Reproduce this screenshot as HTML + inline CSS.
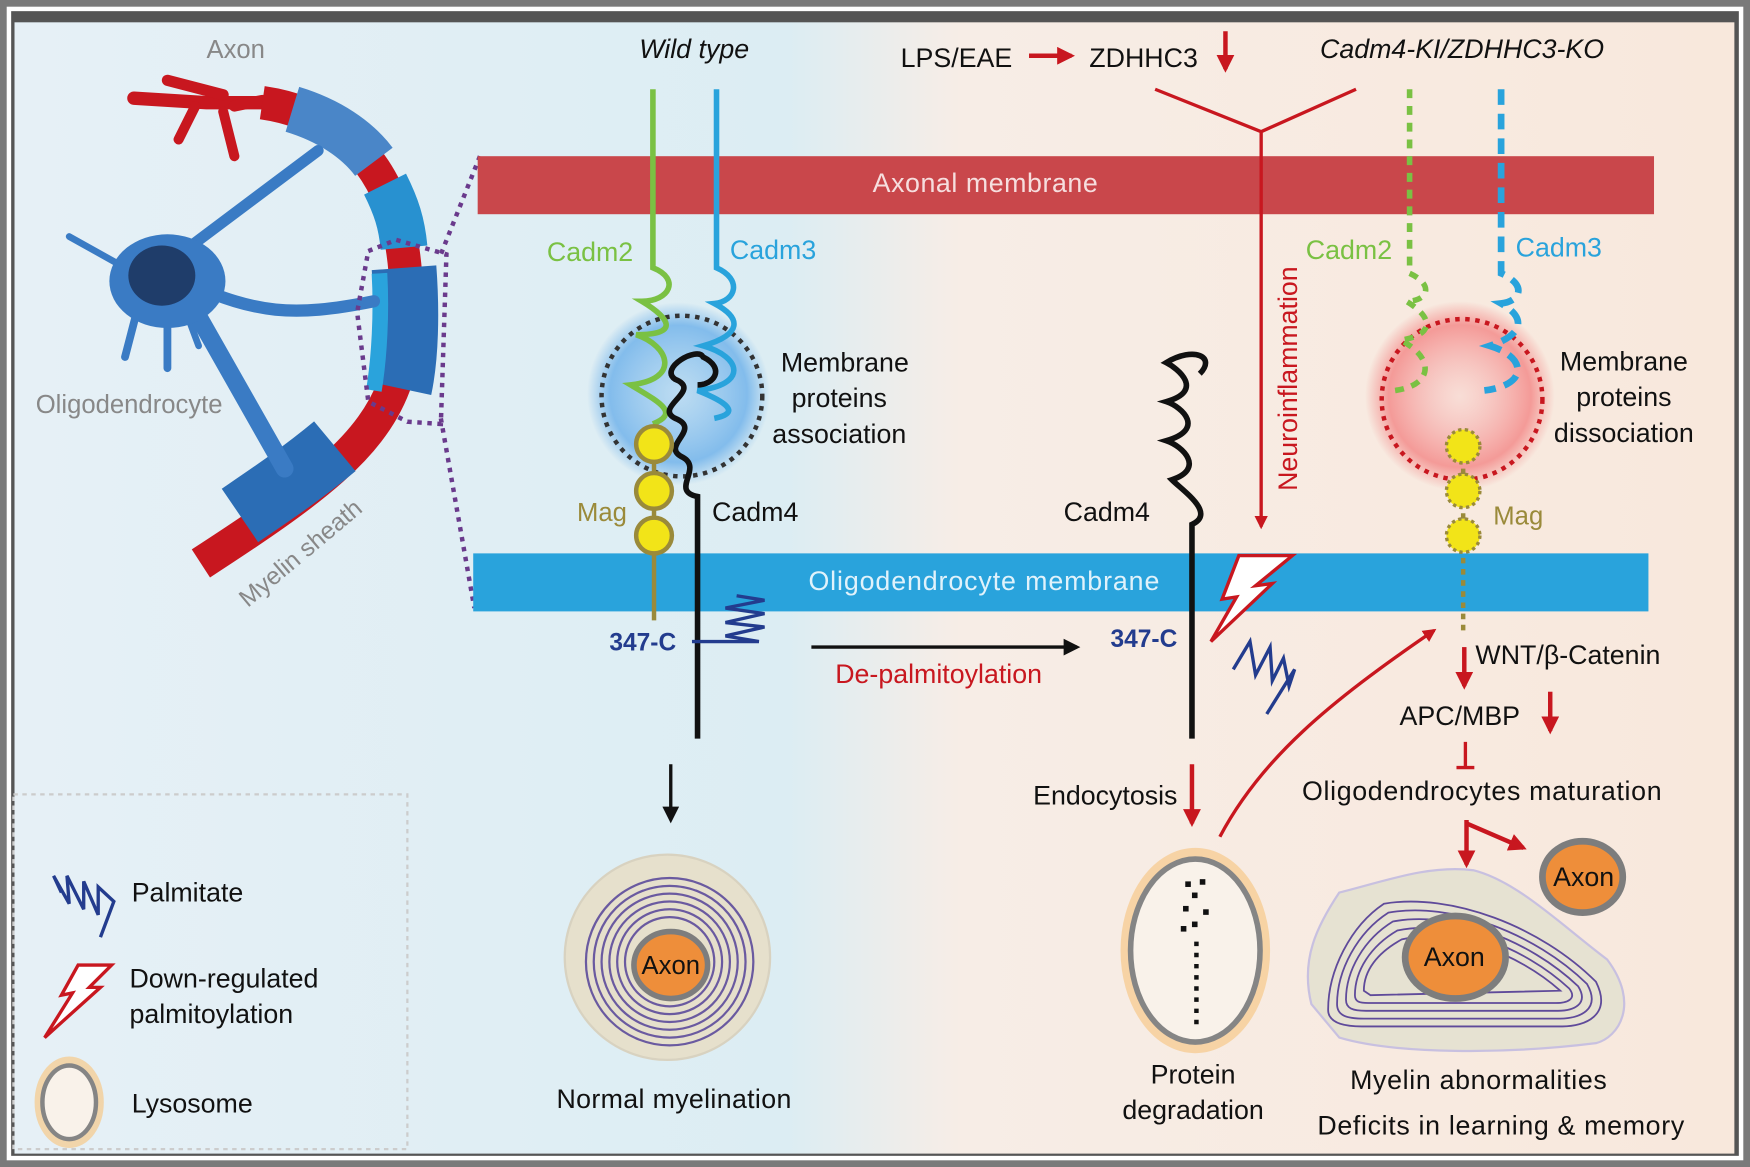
<!DOCTYPE html>
<html><head><meta charset="utf-8"><style>
html,body{margin:0;padding:0;background:#fff;}
svg{display:block;}
text{font-family:"Liberation Sans",Arial,sans-serif;}
</style></head><body>
<svg width="1750" height="1167" viewBox="0 0 1568 1046" preserveAspectRatio="none" xmlns="http://www.w3.org/2000/svg">
<defs>
<linearGradient id="bg" x1="0" x2="1" y1="0" y2="0">
<stop offset="0" stop-color="#e6f0f6"/><stop offset="0.45" stop-color="#dcedf3"/><stop offset="0.55" stop-color="#f7ede6"/><stop offset="1" stop-color="#f8e8dc"/></linearGradient>
<radialGradient id="glowB"><stop offset="0" stop-color="#9ccbf0" stop-opacity="0.5"/><stop offset="0.75" stop-color="#6cb0ea" stop-opacity="0.8"/><stop offset="1" stop-color="#6cb0ea" stop-opacity="0"/></radialGradient>
<radialGradient id="glowR"><stop offset="0" stop-color="#f8c0c0" stop-opacity="0.3"/><stop offset="0.75" stop-color="#f38080" stop-opacity="0.75"/><stop offset="1" stop-color="#f38080" stop-opacity="0"/></radialGradient>
<marker id="ar" viewBox="0 0 10 10" refX="8" refY="5" markerWidth="4" markerHeight="4" orient="auto"><path d="M0,0L10,5L0,10z" fill="#c8171f"/></marker>
<marker id="ak" viewBox="0 0 10 10" refX="8" refY="5" markerWidth="5" markerHeight="5" orient="auto"><path d="M0,0L10,5L0,10z" fill="#111"/></marker>
</defs>
<rect x="0" y="0" width="1568" height="1046" fill="#7a7a7a"/>
<rect x="6" y="6" width="1556" height="1034" fill="#fff"/>
<rect x="10" y="10" width="1548" height="1026" fill="#555"/>
<rect x="13" y="20" width="1541" height="1014" fill="url(#bg)"/>

<!-- oligodendrocyte cell -->
<g>
<g stroke="#c8171f" stroke-linecap="round" fill="none">
<path d="M120,88 L185,92 L240,92" stroke-width="12"/>
<path d="M150,72 L200,85" stroke-width="10"/>
<path d="M175,95 L160,125" stroke-width="9"/>
<path d="M200,100 L210,140" stroke-width="9"/>
<path d="M210,95 L235,90" stroke-width="10"/>
</g>
<path d="M235,92 C290,100 330,130 350,180 C368,230 368,300 355,340 C335,400 280,440 180,505" stroke="#c8171f" stroke-width="30" fill="none"/>
<path d="M262,98 C295,108 320,125 335,145" stroke="#4a86c8" stroke-width="42" fill="none"/>
<path d="M345,165 C355,185 360,200 362,222" stroke="#2891d0" stroke-width="42" fill="none"/>
<path d="M362,240 C365,280 364,320 358,348" stroke="#2b6db5" stroke-width="58" fill="none"/>
<path d="M340,245 C342,280 340,320 335,350" stroke="#2aa3dc" stroke-width="14" fill="none"/>
<path d="M300,400 C270,425 240,445 215,462" stroke="#2b6db5" stroke-width="58" fill="none"/>
<g stroke="#3a7bc4" stroke-linecap="round" fill="none">
<path d="M165,225 L285,135" stroke-width="10"/>
<path d="M170,255 C230,280 260,285 335,270" stroke-width="11"/>
<path d="M170,270 L255,420" stroke-width="16"/>
<path d="M130,250 L62,212" stroke-width="6"/>
<path d="M125,270 L112,320" stroke-width="7"/>
<path d="M150,275 L150,330" stroke-width="7"/>
<path d="M165,275 L178,310" stroke-width="6"/>
</g>
<ellipse cx="150" cy="252" rx="52" ry="42" fill="#3a7bc4"/>
<ellipse cx="145" cy="247" rx="30" ry="27" fill="#1f3d6a"/>
<text x="185" y="52" font-size="23" fill="#888">Axon</text>
<text x="32" y="370" font-size="23" fill="#888">Oligodendrocyte</text>
<text x="222" y="545" font-size="22" fill="#888" transform="rotate(-40 222 545)">Myelin sheath</text>
<path d="M330,225 L355,215 L400,228 L395,380 L365,378 L330,360 L320,280Z" fill="none" stroke="#6a3a8c" stroke-width="4" stroke-dasharray="4,5"/>
<path d="M430,140 L395,228 M395,375 L425,545" stroke="#6a3a8c" stroke-width="4" stroke-dasharray="4,5" fill="none"/>
</g>

<!-- membranes -->
<rect x="428" y="140" width="1054" height="52" fill="#c9474b"/>
<text x="883" y="172" font-size="24" fill="#f6dede" text-anchor="middle" letter-spacing="0.5">Axonal membrane</text>
<rect x="424" y="496" width="1053" height="52" fill="#29a3dc"/>
<text x="882" y="529" font-size="24" fill="#e0f2fb" text-anchor="middle" letter-spacing="0.8">Oligodendrocyte membrane</text>

<!-- wild type -->
<text x="622" y="52" font-size="24" font-style="italic" fill="#111" text-anchor="middle">Wild type</text>
<circle cx="608" cy="353" r="82" fill="url(#glowB)"/>
<circle cx="611" cy="355" r="72" fill="none" stroke="#333" stroke-width="4" stroke-dasharray="4,5"/>
<path d="M585,80 L585,240 C610,250 600,270 575,270 C600,285 610,300 570,300 C600,310 610,340 565,345 C590,360 610,370 585,380" fill="none" stroke="#7ac143" stroke-width="5"/>
<path d="M642,80 L642,240 C665,250 660,270 640,272 C665,285 665,300 630,310 C665,320 670,345 625,350 C650,360 665,370 640,375" fill="none" stroke="#29a3dc" stroke-width="5"/>
<path d="M625,662 L625,445 C600,440 630,420 612,410 C590,400 630,385 605,375 C585,365 630,350 605,340 C590,330 625,310 630,320 C650,330 640,345 625,345" fill="none" stroke="#111" stroke-width="5"/>
<line x1="586" y1="390" x2="586" y2="556" stroke="#9a8a3a" stroke-width="4"/>
<g fill="#f2e418" stroke="#9a8a3a" stroke-width="4"><circle cx="586" cy="398" r="16"/><circle cx="586" cy="440" r="16"/><circle cx="586" cy="480" r="16"/></g>
<text x="490" y="234" font-size="24" fill="#7ac143">Cadm2</text>
<text x="654" y="232" font-size="24" fill="#29a3dc">Cadm3</text>
<text x="517" y="467" font-size="23" fill="#9a8a3a">Mag</text>
<text x="638" y="467" font-size="24" fill="#111">Cadm4</text>
<text x="757" y="333" font-size="24" fill="#111" text-anchor="middle">Membrane</text>
<text x="752" y="365" font-size="24" fill="#111" text-anchor="middle">proteins</text>
<text x="752" y="397" font-size="24" fill="#111" text-anchor="middle">association</text>
<text x="546" y="583" font-size="22" font-weight="bold" fill="#233c8e">347-C</text>
<path d="M620,575 L680,575 L650,570 L685,562 L650,558 L685,550 L650,545 L685,538 L660,534" fill="none" stroke="#233c8e" stroke-width="3"/>
<line x1="601" y1="685" x2="601" y2="735" stroke="#111" stroke-width="3" marker-end="url(#ak)"/>
<!-- normal myelination -->
<ellipse cx="598" cy="858" rx="92" ry="92" fill="#e6e0cc" stroke="#d8d2c0" stroke-width="2"/>
<g fill="none" stroke="#6a5aa0" stroke-width="2">
<circle cx="600" cy="862" r="75"/><circle cx="600" cy="862" r="68"/><circle cx="600" cy="862" r="61"/><circle cx="600" cy="862" r="54"/><circle cx="600" cy="862" r="47"/><circle cx="600" cy="862" r="40"/></g>
<ellipse cx="601" cy="865" rx="33" ry="30" fill="#ee8e3a" stroke="#7d7d7d" stroke-width="5"/>
<text x="601" y="873" font-size="23" fill="#111" text-anchor="middle">Axon</text>
<text x="604" y="993" font-size="24" fill="#111" text-anchor="middle" letter-spacing="0.3">Normal myelination</text>

<!-- middle -->
<line x1="727" y1="580" x2="965" y2="580" stroke="#111" stroke-width="3" marker-end="url(#ak)"/>
<text x="841" y="612" font-size="24" fill="#c8171f" text-anchor="middle">De-palmitoylation</text>
<text x="807" y="60" font-size="24" fill="#111">LPS/EAE</text>
<line x1="922" y1="50" x2="960" y2="50" stroke="#c8171f" stroke-width="4" marker-end="url(#ar)"/>
<text x="976" y="60" font-size="24" fill="#111">ZDHHC3</text>
<line x1="1098" y1="28" x2="1098" y2="62" stroke="#c8171f" stroke-width="4" marker-end="url(#ar)"/>
<path d="M1035,80 L1130,118 L1215,80 M1130,118 L1130,472" stroke="#c8171f" stroke-width="3" fill="none" marker-end="url(#ar)"/>
<text x="1162" y="440" font-size="24" fill="#c8171f" transform="rotate(-90 1162 440)">Neuroinflammation</text>
<path d="M1068,662 L1068,470 C1090,460 1060,440 1050,430 C1080,420 1060,400 1045,395 C1080,385 1060,365 1045,360 C1080,350 1055,330 1045,325 C1070,310 1090,320 1075,335" fill="none" stroke="#111" stroke-width="5"/>
<text x="953" y="467" font-size="24" fill="#111">Cadm4</text>
<text x="995" y="580" font-size="22" font-weight="bold" fill="#233c8e">347-C</text>
<path d="M1105,600 L1120,575 L1125,605 L1138,580 L1140,610 L1150,590 L1155,615 L1160,600 L1135,640" fill="none" stroke="#233c8e" stroke-width="3"/>
<path d="M1110,498 L1158,498 L1125,525 L1140,523 L1085,575 L1108,535 L1095,537 Z" fill="#fff" stroke="#c8171f" stroke-width="3"/>
<text x="1055" y="721" font-size="24" fill="#111" text-anchor="end">Endocytosis</text>
<line x1="1068" y1="685" x2="1068" y2="738" stroke="#c8171f" stroke-width="4" marker-end="url(#ar)"/>
<path d="M1093,750 C1130,680 1190,630 1285,565" stroke="#c8171f" stroke-width="3" fill="none" marker-end="url(#ar)"/>
<ellipse cx="1071" cy="852" rx="60" ry="85" fill="none" stroke="#f6c98a" stroke-width="14" opacity="0.7"/>
<ellipse cx="1071" cy="852" rx="58" ry="82" fill="#f9f2ea" stroke="#858585" stroke-width="5"/>
<path d="M1072,918 L1072,840" stroke="#111" stroke-width="4" stroke-dasharray="4,6"/>
<g fill="#111"><rect x="1062" y="790" width="5" height="5"/><rect x="1075" y="788" width="5" height="5"/><rect x="1068" y="800" width="5" height="5"/><rect x="1060" y="812" width="5" height="5"/><rect x="1078" y="815" width="5" height="5"/><rect x="1068" y="826" width="5" height="5"/><rect x="1058" y="830" width="5" height="5"/></g>
<text x="1069" y="971" font-size="24" fill="#111" text-anchor="middle">Protein</text>
<text x="1069" y="1003" font-size="24" fill="#111" text-anchor="middle">degradation</text>

<!-- right -->
<text x="1310" y="52" font-size="24" font-style="italic" fill="#111" text-anchor="middle">Cadm4-KI/ZDHHC3-KO</text>
<circle cx="1308" cy="355" r="85" fill="url(#glowR)"/>
<circle cx="1310" cy="358" r="72" fill="none" stroke="#c8171f" stroke-width="4" stroke-dasharray="4,5"/>
<path d="M1263,80 L1263,245 C1285,255 1280,270 1260,270 C1285,285 1285,300 1255,305 C1285,320 1285,345 1250,350" fill="none" stroke="#7ac143" stroke-width="5" stroke-dasharray="8,7"/>
<path d="M1345,80 L1345,245 C1368,255 1363,270 1345,272 C1368,285 1365,300 1335,310 C1368,320 1370,345 1330,350" fill="none" stroke="#29a3dc" stroke-width="6" stroke-dasharray="14,8"/>
<text x="1170" y="232" font-size="24" fill="#7ac143">Cadm2</text>
<text x="1358" y="230" font-size="24" fill="#29a3dc">Cadm3</text>
<text x="1455" y="332" font-size="24" fill="#111" text-anchor="middle">Membrane</text>
<text x="1455" y="364" font-size="24" fill="#111" text-anchor="middle">proteins</text>
<text x="1455" y="396" font-size="24" fill="#111" text-anchor="middle">dissociation</text>
<line x1="1311" y1="400" x2="1311" y2="565" stroke="#9a8a3a" stroke-width="4" stroke-dasharray="5,5"/>
<g fill="#f2e418" stroke="#9a8a3a" stroke-width="3" stroke-dasharray="3,3"><circle cx="1311" cy="400" r="15"/><circle cx="1311" cy="440" r="15"/><circle cx="1311" cy="480" r="15"/></g>
<text x="1338" y="470" font-size="23" fill="#9a8a3a">Mag</text>
<line x1="1312" y1="580" x2="1312" y2="615" stroke="#c8171f" stroke-width="4" marker-end="url(#ar)"/>
<text x="1322" y="595" font-size="24" fill="#111">WNT/β-Catenin</text>
<text x="1254" y="650" font-size="24" fill="#111">APC/MBP</text>
<line x1="1389" y1="620" x2="1389" y2="655" stroke="#c8171f" stroke-width="4" marker-end="url(#ar)"/>
<path d="M1313,665 L1313,688 M1305,688 L1321,688" stroke="#c8171f" stroke-width="3"/>
<text x="1328" y="717" font-size="24" fill="#111" text-anchor="middle" letter-spacing="0.6">Oligodendrocytes maturation</text>
<path d="M1314,735 L1314,775" stroke="#c8171f" stroke-width="4" marker-end="url(#ar)"/>
<path d="M1314,738 L1365,760" stroke="#c8171f" stroke-width="4" marker-end="url(#ar)"/>
<path d="M1175,900 C1165,860 1180,830 1200,800 C1240,790 1280,775 1320,780 C1360,790 1400,830 1440,860 C1470,900 1450,930 1430,935 C1350,945 1250,945 1200,930 Z" fill="#e6e2d2" stroke="#c8c0e0" stroke-width="2"/>
<g fill="none" stroke="#5f4a9a" stroke-width="1.6">
<path d="M1190,905 C1190,870 1210,830 1240,810 C1300,800 1380,830 1430,880 C1445,910 1420,920 1400,920 L1220,920 C1200,920 1190,915 1190,905Z"/>
<path d="M1198,900 C1198,870 1216,836 1244,818 C1300,808 1375,836 1422,882 C1435,905 1415,913 1398,913 L1222,913 C1206,913 1198,910 1198,900Z"/>
<path d="M1206,896 C1206,870 1222,842 1248,826 C1300,816 1370,842 1414,884 C1424,900 1410,906 1396,906 L1224,906 C1212,906 1206,904 1206,896Z"/>
<path d="M1214,892 C1214,870 1228,848 1252,834 C1300,824 1365,848 1406,886 C1413,895 1405,899 1394,899 L1226,899 C1218,899 1214,898 1214,892Z"/>
<path d="M1222,888 C1222,870 1234,854 1256,842 C1300,832 1360,854 1398,888 L1228,892 Z"/>
</g>
<ellipse cx="1304" cy="858" rx="45" ry="37" fill="#ee8e3a" stroke="#7d7d7d" stroke-width="6"/>
<text x="1303" y="866" font-size="24" fill="#111" text-anchor="middle">Axon</text>
<ellipse cx="1418" cy="786" rx="36" ry="32" fill="#ee8e3a" stroke="#7d7d7d" stroke-width="6"/>
<text x="1419" y="794" font-size="24" fill="#111" text-anchor="middle">Axon</text>
<text x="1325" y="976" font-size="24" fill="#111" text-anchor="middle" letter-spacing="0.6">Myelin abnormalities</text>
<text x="1345" y="1017" font-size="24" fill="#111" text-anchor="middle" letter-spacing="0.6">Deficits in learning &amp; memory</text>

<!-- legend -->
<rect x="12" y="712" width="353" height="318" fill="none" stroke="#ccc" stroke-width="2" stroke-dasharray="4,4"/>
<path d="M55,800 L48,785 L62,810 L60,785 L75,815 L75,790 L88,820 L88,795 L102,808 L90,840" fill="none" stroke="#233c8e" stroke-width="3"/>
<text x="118" y="808" font-size="24" fill="#111">Palmitate</text>
<path d="M70,865 L100,865 L80,885 L90,885 L40,930 L65,890 L55,892 Z" fill="#fff" stroke="#c8171f" stroke-width="3"/>
<text x="116" y="885" font-size="24" fill="#111">Down-regulated</text>
<text x="116" y="917" font-size="24" fill="#111">palmitoylation</text>
<ellipse cx="62" cy="988" rx="26" ry="36" fill="none" stroke="#f6c98a" stroke-width="10" opacity="0.7"/>
<ellipse cx="62" cy="988" rx="24" ry="33" fill="#f9f2ea" stroke="#858585" stroke-width="4"/>
<text x="118" y="997" font-size="24" fill="#111">Lysosome</text>
</svg>
</body></html>
